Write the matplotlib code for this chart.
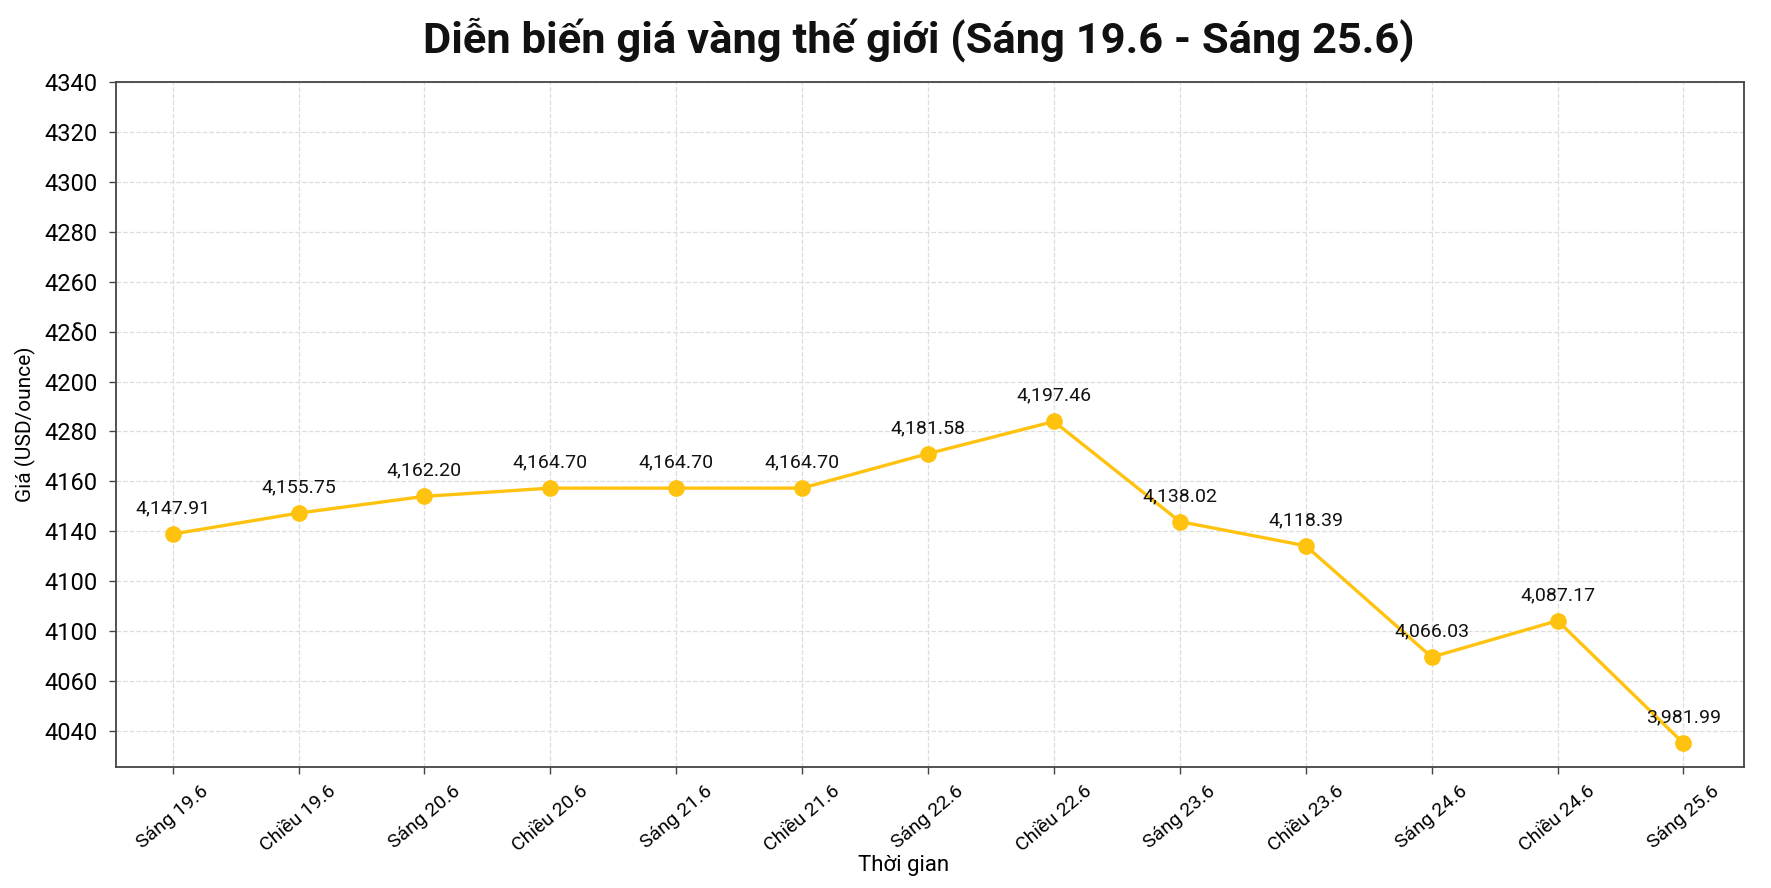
import matplotlib
matplotlib.use("Agg")
import matplotlib.pyplot as plt

plt.rcParams['font.family'] = ['Roboto', 'DejaVu Sans']

# time slots on the x axis
times = ['Sáng 19.6', 'Chiều 19.6', 'Sáng 20.6', 'Chiều 20.6', 'Sáng 21.6', 'Chiều 21.6',
         'Sáng 22.6', 'Chiều 22.6', 'Sáng 23.6', 'Chiều 23.6', 'Sáng 24.6', 'Chiều 24.6',
         'Sáng 25.6']

# price labels written above each point
prices = [4147.91, 4155.75, 4162.20, 4164.70, 4164.70, 4164.70,
          4181.58, 4197.46, 4138.02, 4118.39, 4066.03, 4087.17, 3981.99]

# where the points sit on the drawn y scale
plotted = [4158.9, 4167.3, 4174.0, 4177.3, 4177.3, 4177.3,
           4191.1, 4204.0, 4163.9, 4154.2, 4109.6, 4124.2, 4075.1]

# y ticks and the labels printed next to them (as in the picture)
ytick_vals = [4340, 4320, 4300, 4280, 4260, 4240, 4220, 4200, 4180, 4160, 4140, 4120, 4100, 4080]
ytick_text = ['4340', '4320', '4300', '4280', '4260', '42\u03b40', '4200', '4280', '4160',
              '4140', '4100', '4100', '4060', '4040']

gold = '#FFC20E'

fig = plt.figure(figsize=(17.71, 8.88), dpi=100)
ax = fig.add_axes([0.0655, 0.1363, 0.9192, 0.7714])

x = list(range(len(times)))
ax.plot(x, plotted, color=gold, linewidth=2.4, marker='o', markersize=11, zorder=3)

for xi, yi, p in zip(x, plotted, prices):
    ax.annotate(f'{p:,.2f}', (xi, yi), xytext=(0, 12), textcoords='offset points',
                ha='center', va='bottom', fontsize=14, color='#111111')

ax.set_xlim(-0.45, 12.48)
ax.set_ylim(4065.6, 4340)
ax.set_xticks(x)
ax.set_xticklabels(times, rotation=40, ha='center', fontsize=14)
ax.set_yticks(ytick_vals)
ax.set_yticklabels(ytick_text, fontsize=17)
ax.tick_params(axis='both', direction='out', length=5, width=1, color='#444444')
ax.tick_params(axis='y', pad=8)
ax.tick_params(axis='x', pad=6)

ax.grid(True, linestyle='--', color='#dddddd', linewidth=0.9)
ax.set_axisbelow(True)
for s in ax.spines.values():
    s.set_color('#444444')
    s.set_linewidth(1.3)

ax.set_xlabel('Thời gian', fontsize=16, labelpad=5)
ax.xaxis.set_label_coords(0.484, -0.128)
ax.set_ylabel('Giá (USD/ounce)', fontsize=15, labelpad=6)

fig.text(0.519, 0.955, 'Diễn biến giá vàng thế giới (Sáng 19.6 - Sáng 25.6)',
         ha='center', va='center', fontsize=31.3, fontweight='bold', color='#111111')

fig.savefig('out.png', dpi=100)
